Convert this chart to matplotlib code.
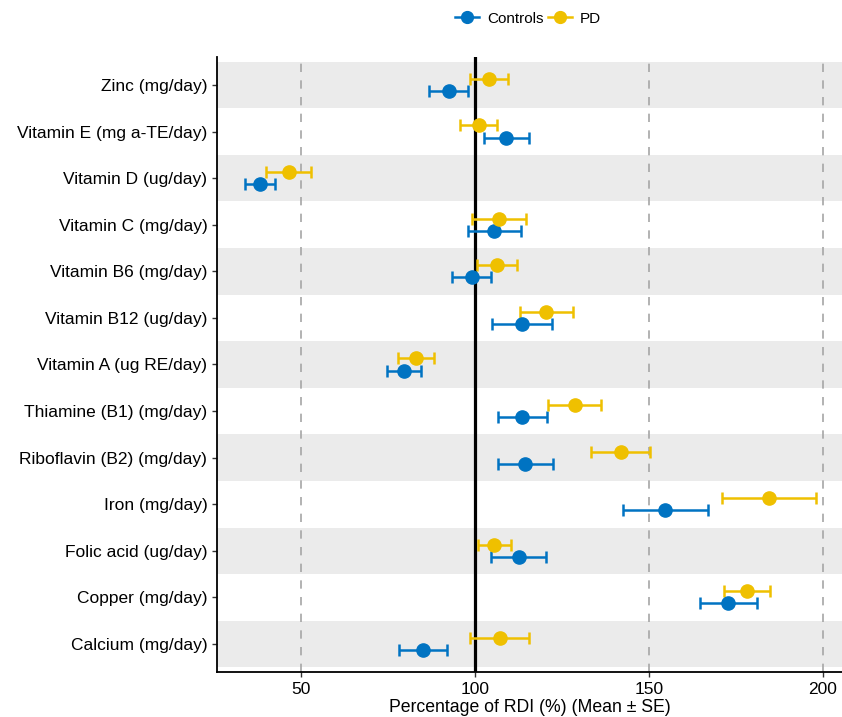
import matplotlib.pyplot as plt
from matplotlib.lines import Line2D

plt.rcParams['font.family'] = ['Liberation Sans', 'DejaVu Sans']

# nutrients, bottom to top
nutrients = ["Calcium (mg/day)", "Copper (mg/day)", "Folic acid (ug/day)",
             "Iron (mg/day)", "Riboflavin (B2) (mg/day)", "Thiamine (B1) (mg/day)",
             "Vitamin A (ug RE/day)", "Vitamin B12 (ug/day)", "Vitamin B6 (mg/day)",
             "Vitamin C (mg/day)", "Vitamin D (ug/day)", "Vitamin E (mg a-TE/day)",
             "Zinc (mg/day)"]

controls_mean = [85.2, 172.9, 112.6, 154.8, 114.6, 113.7, 79.7, 113.6, 99.1, 105.6, 38.4, 109.1, 92.6]
controls_se = [6.9, 8.3, 7.9, 12.3, 7.8, 7.1, 5.0, 8.6, 5.5, 7.6, 4.4, 6.5, 5.6]
pd_mean = [107.2, 178.2, 105.7, 184.5, 141.9, 128.7, 83.2, 120.6, 106.4, 107.0, 46.6, 101.2, 104.1]
pd_se = [8.4, 6.6, 4.8, 13.4, 8.6, 7.6, 5.2, 7.6, 5.7, 7.8, 6.5, 5.3, 5.5]

blue = "#0073C2"
yellow = "#EFC000"
dodge = 0.13

fig = plt.figure(figsize=(8.42, 7.17), dpi=100)
ax = fig.add_axes([0.2577, 0.0628, 0.7423, 0.8577])

ypos = list(range(len(nutrients)))
for i in ypos:
    if i % 2 == 0:
        ax.axhspan(i - 0.5, i + 0.5, color="#EBEBEB", lw=0, zorder=0)

for v in [50, 150, 200]:
    ax.axvline(v, color="#A6A6A6", lw=1.2, ls=(0, (5, 5)), zorder=1)
ax.axvline(100, color="black", lw=2.3, zorder=2)

ax.errorbar(controls_mean, [y - dodge for y in ypos], xerr=controls_se, fmt="o",
            color=blue, ms=9.5, elinewidth=1.8, capsize=4, capthick=1.8, zorder=3)
ax.errorbar(pd_mean, [y + dodge for y in ypos], xerr=pd_se, fmt="o",
            color=yellow, ms=9.5, elinewidth=1.8, capsize=4, capthick=1.8, zorder=3)

ax.set_xlim(26, 205.5)
ax.set_ylim(-0.6, 12.6)
ax.set_xticks([50, 100, 150, 200])
ax.set_yticks(ypos)
ax.set_yticklabels(nutrients)
ax.tick_params(axis="both", labelsize=12.5, colors="#333333", labelcolor="black", length=3.5, width=1)
ax.tick_params(axis="x", pad=4)
ax.set_xlabel("Percentage of RDI (%) (Mean ± SE)", fontsize=12.7, labelpad=1.5)

for s in ["top", "right"]:
    ax.spines[s].set_visible(False)
for s in ["left", "bottom"]:
    ax.spines[s].set_linewidth(1.3)
    ax.spines[s].set_color("black")

handles = [Line2D([], [], color=blue, marker="o", ms=8.5, lw=1.8),
           Line2D([], [], color=yellow, marker="o", ms=8.5, lw=1.8)]
fig.legend(handles, ["Controls", "PD"], loc="center", bbox_to_anchor=(0.627, 0.974),
           ncol=2, frameon=False, fontsize=11, handlelength=1.6, columnspacing=0.3,
           handletextpad=0.5)

fig.savefig("out.png", dpi=100)
